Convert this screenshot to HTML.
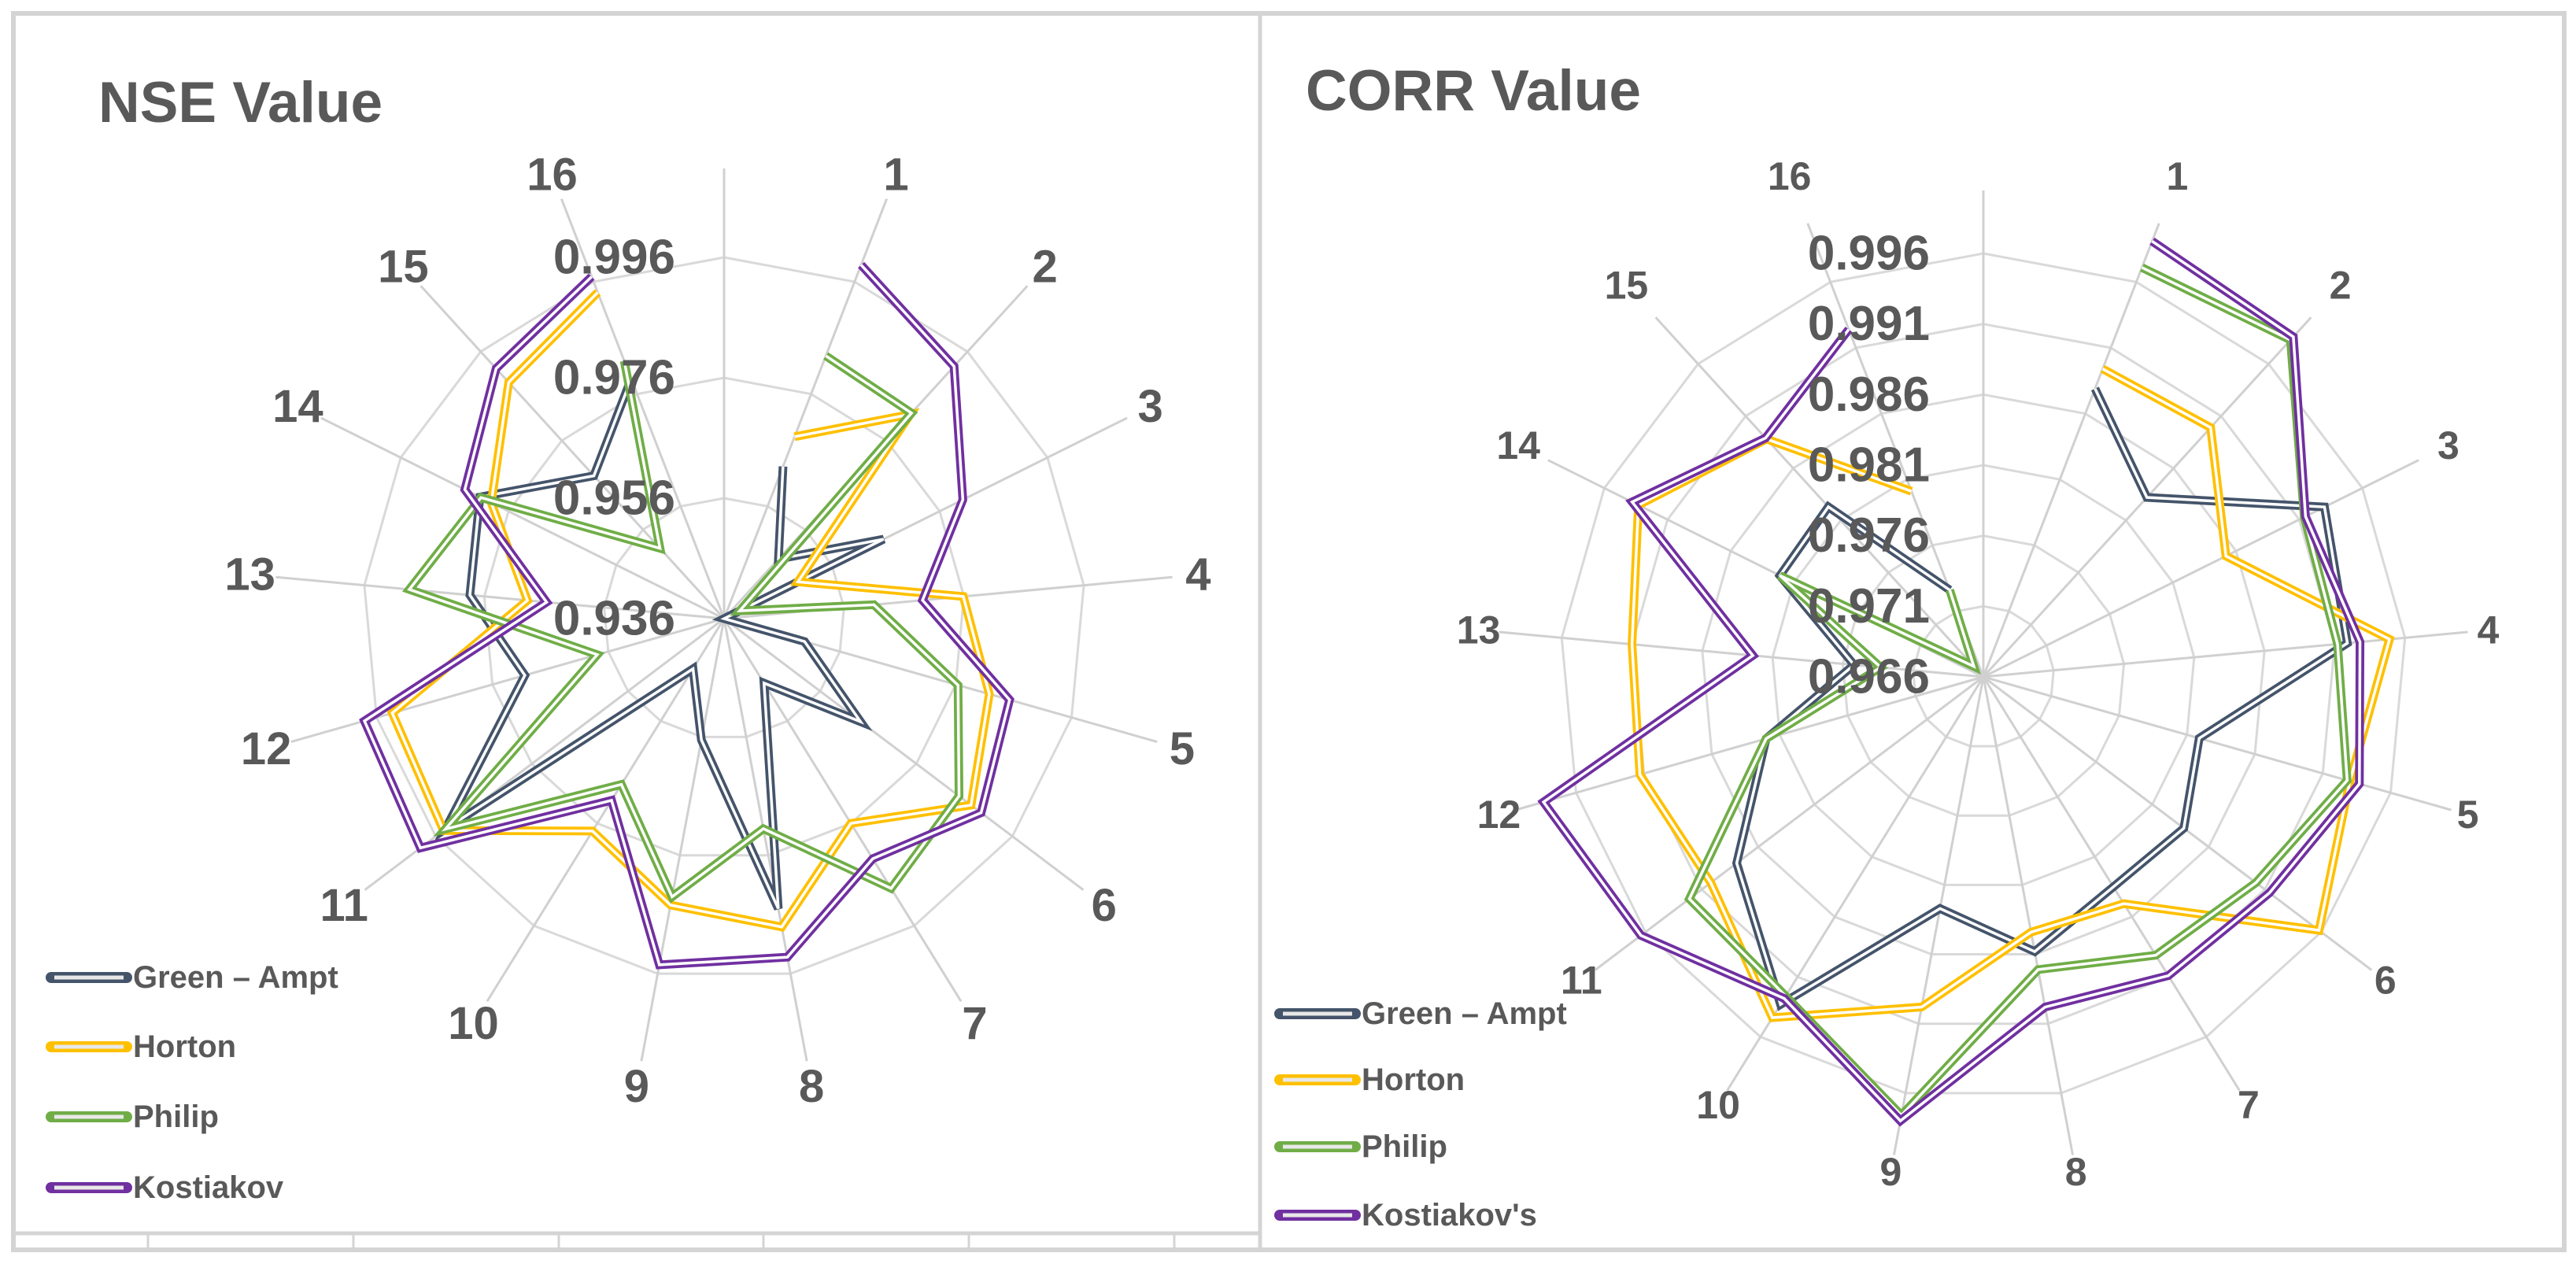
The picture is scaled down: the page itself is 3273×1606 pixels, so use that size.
<!DOCTYPE html>
<html><head><meta charset="utf-8"><style>
html,body{margin:0;padding:0;background:#fff;}
svg{display:block;}
text{font-family:"Liberation Sans",sans-serif;font-weight:bold;fill:#595959;}
</style></head><body>
<svg id="root" width="3273" height="1606" viewBox="0 0 3273 1606" xmlns="http://www.w3.org/2000/svg">
<rect x="0" y="0" width="3273" height="1606" fill="#fff"/>
<rect x="17" y="17" width="3241" height="1571" fill="none" stroke="#d4d4d4" stroke-width="6"/>
<line x1="1601" y1="17" x2="1601" y2="1588" stroke="#d4d4d4" stroke-width="5"/>
<line x1="17" y1="1567" x2="1601" y2="1567" stroke="#d4d4d4" stroke-width="5"/>
<g id="bticks"></g>
<text x="125" y="155" font-size="73">NSE Value</text>
<text x="1659" y="140" font-size="73">CORR Value</text>
<g id="nse"></g>
<g id="corr"></g>
</svg>
<script>
const categories = ["", "1","2","3","4","5","6","7","8","9","10","11","12","13","14","15","16"];
const seriesNames = ["Green – Ampt","Horton","Philip","Kostiakov"];
const seriesNamesCorr = ["Green – Ampt","Horton","Philip","Kostiakov's"];
const seriesColors = ["#44546A","#FFC000","#70AD47","#7030A0"];
const nseTicks = ["0.936","0.956","0.976","0.996"];
const nseGreenAmpt = [0.9631,0.9494,0.9656,0.936,0.9499,0.9644,0.9486,0.985,0.9565,0.9458,0.994,0.9704,0.9784,0.9813,0.9681,0.9787];
const nseHorton = [0.9684,0.9819,0.9497,0.9759,0.9818,0.9874,0.976,0.9881,0.9844,0.9775,0.9944,0.9933,0.9688,0.9792,0.9891,0.9941];
const nsePhilip = [0.9828,0.9822,0.9389,0.961,0.9764,0.9849,0.9887,0.9715,0.983,0.9684,0.994,0.9579,0.9885,0.9811,0.9518,0.9819];
const nseKostiakov = [0.999,0.9927,0.9803,0.9691,0.9853,0.9895,0.9829,0.9932,0.9945,0.9715,0.9992,0.9981,0.9656,0.9841,0.9922,0.9969];
const corrTicks = ["0.966","0.971","0.976","0.981","0.986","0.991","0.996"];
const corrGreenAmpt = [0.9879,0.9832,0.993,0.9919,0.9819,0.9838,0.9835,0.9858,0.9827,0.9933,0.9879,0.982,0.9752,0.9821,0.9823,0.9726];
const corrHorton = [0.9894,0.9899,0.9852,0.9949,0.993,0.9958,0.9849,0.9844,0.9898,0.9944,0.9902,0.9913,0.991,0.9933,0.9888,0.9801];
const corrPhilip = [0.9971,0.9983,0.9914,0.9912,0.9928,0.9902,0.9892,0.9871,0.9976,0.9926,0.9921,0.982,0.9733,0.9821,0.967,0.9726];
const corrKostiakov = [0.9991,0.9986,0.9915,0.9928,0.9937,0.9914,0.9909,0.9898,0.998,0.9928,0.9964,0.9984,0.9824,0.9938,0.9889,0.9924];

const NS = "http://www.w3.org/2000/svg";
function mk(tag, attrs, parent){const e=document.createElementNS(NS,tag);for(const k in attrs)e.setAttribute(k,attrs[k]);parent.appendChild(e);return e;}

const bt=document.getElementById('bticks');
[188,449,710,970,1231,1492].forEach(x=>{
  const l=mk('line',{x1:x,y1:1567,x2:x,y2:1588,stroke:'#d4d4d4','stroke-width':3},bt);
  
  
});

function drawRadar(cfg){
  const g=document.getElementById(cfg.id);
  const n=categories.length;
  const ang=i=>i*2*Math.PI/n;
  const rad=v=>(v-cfg.min)/(cfg.max-cfg.min)*cfg.R;
  const pt=(i,r)=>[cfg.cx+r*Math.sin(ang(i)), cfg.cy-r*Math.cos(ang(i))];
  cfg.ticks.forEach((t,k)=>{
    if(k===0) return;
    const r=rad(parseFloat(t));
    const pts=[];for(let i=0;i<n;i++)pts.push(pt(i,r).join(','));
    const p=mk('polygon',{points:pts.join(' '),fill:'none',stroke:'#d9d9d9','stroke-width':3},g);
    
    
  });
  for(let i=0;i<n;i++){
    const [x,y]=pt(i,cfg.spoke);
    const l=mk('line',{x1:cfg.cx,y1:cfg.cy,x2:x,y2:y,stroke:'#d0d0d0','stroke-width':3},g);
    
    
    if(categories[i]!==""){
      const lr=cfg.labelR+cfg.topExtra*Math.max(0,Math.cos(ang(i)));
      const [lx,ly]=pt(i,lr);
      const t=mk('text',{x:lx,y:ly,'font-size':cfg.catFont,'text-anchor':'middle','dominant-baseline':'central'},g);
      t.textContent=categories[i];
      
      
    }
  }
  cfg.series.forEach((vals,s)=>{
    const pts=vals.map((v,k)=>pt(k+1,Math.max(0,rad(v))).join(','));
    const outer=mk('polyline',{points:pts.join(' '),fill:'none',stroke:seriesColors[s],'stroke-width':11,'stroke-linejoin':'miter'},g);
    
    
    const inner=mk('polyline',{points:pts.join(' '),fill:'none',stroke:'#ffffff','stroke-width':3.5,'stroke-linejoin':'miter'},g);
    
    
  });
  cfg.ticks.forEach(t=>{
    const r=rad(parseFloat(t));
    const tx=mk('text',{x:cfg.cx-cfg.tickOff,y:cfg.cy-r,'font-size':cfg.tickFont,'text-anchor':'end','dominant-baseline':'central'},g);
    tx.textContent=t;
    
    
  });
  cfg.names.forEach((nm,s)=>{
    const y=cfg.legY[s];
    const a=mk('line',{x1:cfg.legX,y1:y,x2:cfg.legX+96,y2:y,stroke:seriesColors[s],'stroke-width':14,'stroke-linecap':'round'},g);
    
    
    const b=mk('line',{x1:cfg.legX+4,y1:y,x2:cfg.legX+92,y2:y,stroke:'#e8e8e8','stroke-width':5},g);
    
    
    const t=mk('text',{x:cfg.legX+104,y:y,'font-size':cfg.legFont,'dominant-baseline':'central'},g);
    t.textContent=nm;
    
    
  });
}

drawRadar({id:'nse',cx:920,cy:786,min:0.936,max:0.996,R:459,spoke:572,labelR:605,topExtra:0,catFont:58,tickFont:62,tickOff:62,
  ticks:nseTicks,series:[nseGreenAmpt,nseHorton,nsePhilip,nseKostiakov],names:seriesNames,
  legX:65,legY:[1242,1330,1419,1509],legFont:40});
drawRadar({id:'corr',cx:2520,cy:860,min:0.966,max:0.996,R:538,spoke:618,labelR:640,topExtra:45,catFont:50,tickFont:62,tickOff:68,
  ticks:corrTicks,series:[corrGreenAmpt,corrHorton,corrPhilip,corrKostiakov],names:seriesNamesCorr,
  legX:1626,legY:[1288,1372,1457,1544],legFont:40});
</script>
</body></html>
